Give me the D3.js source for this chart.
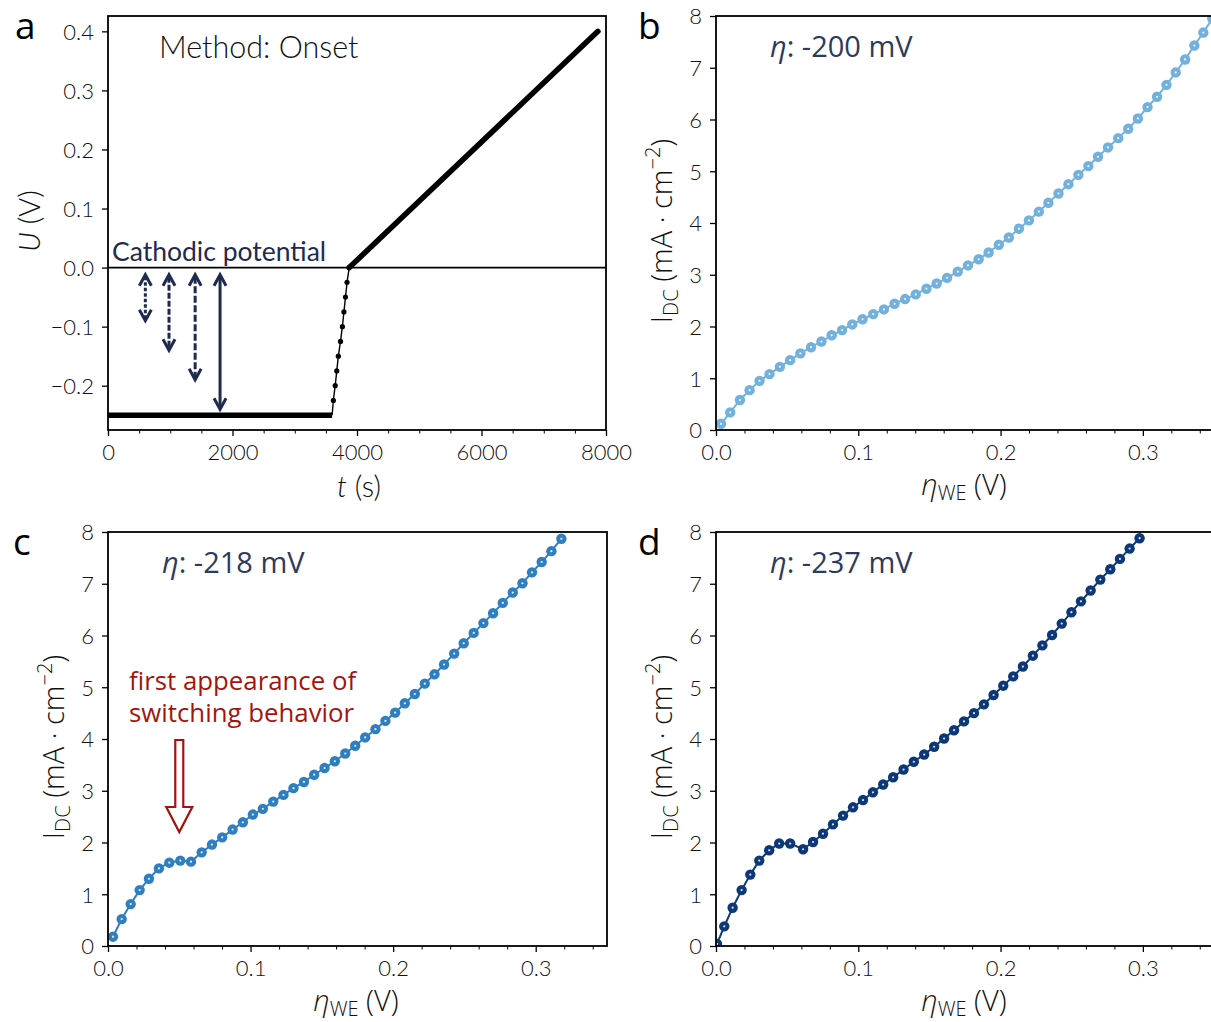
<!DOCTYPE html>
<html><head><meta charset="utf-8">
<script src="https://cdn.jsdelivr.net/npm/d3@7"></script>
<style>
body{margin:0;background:#fff;}
svg{display:block;}
.tick text{font-family:Lato,"Noto Sans",sans-serif;font-weight:300;font-size:22px;fill:#111;}
</style></head>
<body>
<svg id="fig" width="1211" height="1022"></svg>
<script>
// ---------- Panel a data ----------
const holdT = [0, 3600];
const holdU = [-0.25, -0.25];
const stepT = [3600, 3620, 3650, 3675, 3700, 3735, 3765, 3790, 3815, 3840, 3875];
const stepU = [-0.25, -0.225, -0.2, -0.175, -0.15, -0.125, -0.1, -0.075, -0.05, -0.025, 0];
const rampT = [3875, 7870];
const rampU = [0, 0.4];
const arrowT = [600, 980, 1400, 1800];
const arrowDepth = [-0.1, -0.15, -0.2, -0.25];
const aXTicks = [0, 2000, 4000, 6000, 8000];
const aYTicks = [-0.2, -0.1, 0.0, 0.1, 0.2, 0.3, 0.4];

// ---------- Panel b data (eta -200 mV) ----------
const bEta = [0.0035,0.0100,0.0168,0.0236,0.0306,0.0376,0.0449,0.0521,0.0593,0.0668,0.0741,0.0813,0.0886,0.0958,0.1030,0.1105,0.1180,0.1255,0.1329,0.1404,0.1479,0.1551,0.1624,0.1699,0.1771,0.1846,0.1916,0.1988,0.2058,0.2129,0.2199,0.2269,0.2336,0.2407,0.2477,0.2547,0.2617,0.2685,0.2755,0.2827,0.2897,0.2965,0.3033,0.3100,0.3166,0.3231,0.3297,0.3362,0.3425,0.3488];
const bI   = [0.12,0.34,0.58,0.77,0.95,1.08,1.22,1.35,1.48,1.60,1.71,1.83,1.93,2.04,2.14,2.24,2.33,2.44,2.53,2.62,2.73,2.83,2.94,3.06,3.18,3.30,3.43,3.58,3.72,3.89,4.05,4.22,4.39,4.57,4.75,4.93,5.10,5.28,5.46,5.64,5.82,6.02,6.24,6.44,6.67,6.91,7.16,7.43,7.68,7.95];

// ---------- Panel c data (eta -218 mV) ----------
const cEta = [0.0035,0.0096,0.0159,0.0222,0.0287,0.0357,0.0430,0.0507,0.0582,0.0657,0.0729,0.0801,0.0874,0.0946,0.1016,0.1086,0.1159,0.1231,0.1301,0.1374,0.1446,0.1519,0.1591,0.1664,0.1734,0.1804,0.1876,0.1946,0.2014,0.2082,0.2152,0.2222,0.2290,0.2357,0.2428,0.2495,0.2565,0.2633,0.2701,0.2769,0.2839,0.2907,0.2974,0.3042,0.3110,0.3180];
const cI   = [0.18,0.52,0.81,1.08,1.30,1.50,1.61,1.65,1.63,1.81,1.96,2.10,2.25,2.39,2.54,2.65,2.79,2.92,3.05,3.17,3.31,3.44,3.57,3.72,3.87,4.03,4.19,4.35,4.51,4.69,4.87,5.07,5.25,5.44,5.65,5.85,6.05,6.24,6.43,6.63,6.83,7.01,7.22,7.42,7.63,7.87];

// ---------- Panel d data (eta -237 mV) ----------
const dEta = [0.0007,0.0058,0.0117,0.0180,0.0241,0.0304,0.0374,0.0444,0.0521,0.0612,0.0682,0.0752,0.0822,0.0893,0.0963,0.1033,0.1103,0.1175,0.1245,0.1318,0.1390,0.1463,0.1533,0.1603,0.1673,0.1743,0.1813,0.1883,0.1951,0.2019,0.2089,0.2157,0.2227,0.2294,0.2362,0.2430,0.2498,0.2565,0.2633,0.2701,0.2771,0.2839,0.2907,0.2977];
const dI   = [0.04,0.38,0.74,1.08,1.38,1.65,1.85,1.98,1.98,1.87,2.01,2.17,2.35,2.52,2.68,2.82,2.97,3.12,3.26,3.41,3.56,3.70,3.85,4.01,4.17,4.34,4.50,4.67,4.85,5.03,5.21,5.40,5.61,5.81,6.01,6.23,6.45,6.66,6.87,7.08,7.28,7.48,7.68,7.88];

const ivXTicks = [0.0, 0.1, 0.2, 0.3];
const ivYTicks = [0, 1, 2, 3, 4, 5, 6, 7, 8];
const panelLetters = ["a", "b", "c", "d"];
const etaLabels = ["-200 mV", "-218 mV", "-237 mV"];
const seriesColors = ["#72b1dc", "#2f7fc0", "#0c3878"];
const noteLines = ["first appearance of", "switching behavior"];

// ---------- drawing ----------
const svg = d3.select("#fig");
const navy = "#1f2a4f";
const textFont = "'Open Sans','Noto Sans',sans-serif";

function frame(g, x0, x1, y0, y1) {
  g.append("rect").attr("x", x0).attr("y", y0).attr("width", x1 - x0).attr("height", y1 - y0)
    .attr("fill", "none").attr("stroke", "#000").attr("stroke-width", 1.8);
}

function axes(g, xs, ys, xticks, xminor, yticks, xfmt, yfmt, y1, x0) {
  const ax = g.append("g").attr("transform", `translate(0,${y1})`)
    .call(d3.axisBottom(xs).tickValues(xticks).tickFormat(xfmt).tickSize(6).tickPadding(8));
  ax.select(".domain").remove();
  ax.selectAll(".tick line").attr("stroke-width", 1.3);
  if (xminor) {
    const am = g.append("g").attr("transform", `translate(0,${y1})`)
      .call(d3.axisBottom(xs).tickValues(xminor).tickFormat("").tickSize(3.5));
    am.select(".domain").remove();
    am.selectAll(".tick line").attr("stroke-width", 1);
  }
  const ay = g.append("g").attr("transform", `translate(${x0},0)`)
    .call(d3.axisLeft(ys).tickValues(yticks).tickFormat(yfmt).tickSize(6).tickPadding(8));
  ay.select(".domain").remove();
  ay.selectAll(".tick line").attr("stroke-width", 1.3);
  ay.selectAll(".tick text").attr("dy", "0.36em");
}

// Panel a
(function () {
  const x0 = 108, x1 = 606, y0 = 16, y1 = 430;
  const xs = d3.scaleLinear().domain([0, 8000]).range([x0, x1]);
  const ys = d3.scaleLinear().domain([-0.275, 0.426]).range([y1, y0]);
  const g = svg.append("g");
  const minor = d3.range(0, 8001, 500).filter(v => v % 2000 !== 0);
  axes(g, xs, ys, aXTicks, minor, aYTicks, d3.format("d"), d => d3.format(".1f")(d).replace("-", "\u2212"), y1, x0);

  g.append("line").attr("x1", x0).attr("x2", x1).attr("y1", ys(0)).attr("y2", ys(0))
    .attr("stroke", "#000").attr("stroke-width", 1.8);
  const line = d3.line().x(d => xs(d[0])).y(d => ys(d[1]));
  g.append("path").attr("d", line(d3.zip(holdT, holdU))).attr("stroke", "#000").attr("stroke-width", 5.5).attr("fill", "none");
  g.append("path").attr("d", line(d3.zip(rampT, rampU))).attr("stroke", "#000").attr("stroke-width", 5.5)
    .attr("stroke-linecap", "round").attr("fill", "none");
  g.append("path").attr("d", line(d3.zip(stepT, stepU))).attr("stroke", "#000").attr("stroke-width", 1.4).attr("fill", "none");
  g.selectAll("circle.st").data(d3.zip(stepT, stepU).slice(1)).join("circle")
    .attr("cx", d => xs(d[0])).attr("cy", d => ys(d[1])).attr("r", 2.6).attr("fill", "#000");

  const dashes = ["3.5,2", "6,2", "7,2.5", null];
  arrowT.forEach((t, i) => {
    const x = xs(t), yt = ys(-0.012), yb = ys(arrowDepth[i] + 0.01);
    const a = g.append("g").attr("stroke", navy).attr("stroke-width", 3).attr("fill", "none");
    a.append("line").attr("x1", x).attr("x2", x).attr("y1", yt + 2).attr("y2", yb - 2)
      .attr("stroke-dasharray", dashes[i]);
    a.append("path").attr("d", `M${x - 6},${yt + 11}L${x},${yt}L${x + 6},${yt + 11}`).attr("stroke-linejoin", "miter");
    a.append("path").attr("d", `M${x - 6},${yb - 11}L${x},${yb}L${x + 6},${yb - 11}`).attr("stroke-linejoin", "miter");
  });

  g.append("text").attr("x", 112).attr("y", 261).text("Cathodic potential")
    .attr("font-family", "Lato,sans-serif").attr("font-size", 26.5).attr("fill", navy);
  g.append("text").attr("x", 159).attr("y", 58).text("Method: Onset")
    .attr("font-family", "Lato,sans-serif").attr("font-weight", 300).attr("font-size", 30.5).attr("fill", "#111");

  // axis titles
  const yl = g.append("text").attr("transform", `translate(40,${(y0 + y1) / 2 - 2}) rotate(-90)`)
    .attr("text-anchor", "middle").attr("font-family", "Lato,sans-serif").attr("font-weight", 300).attr("font-size", 29).attr("fill", "#111");
  yl.append("tspan").attr("font-style", "italic").text("U");
  yl.append("tspan").text(" (V)");
  const xl = g.append("text").attr("x", (x0 + x1) / 2 + 2).attr("y", 497)
    .attr("text-anchor", "middle").attr("font-family", "Lato,sans-serif").attr("font-weight", 300).attr("font-size", 29).attr("fill", "#111");
  xl.append("tspan").attr("font-style", "italic").text("t");
  xl.append("tspan").text(" (s)");
  frame(g, x0, x1, y0, y1);
})();

// Panels b, c, d
const ivPanels = [
  {x0: 716, x1: 1214, y0: 16, y1: 430, eta: bEta, I: bI},
  {x0: 108, x1: 607, y0: 532, y1: 946, eta: cEta, I: cI},
  {x0: 716, x1: 1214, y0: 532, y1: 946, eta: dEta, I: dI}
];
ivPanels.forEach((p, k) => {
  const xs = d3.scaleLinear().domain([0, 0.35]).range([p.x0, p.x1]);
  const ys = d3.scaleLinear().domain([0, 8]).range([p.y1, p.y0]);
  const g = svg.append("g");
  const minor = d3.range(1, 18).map(i => +(i * 0.02).toFixed(2)).filter(v => Math.abs(v * 10 - Math.round(v * 10)) > 1e-6);
  axes(g, xs, ys, ivXTicks, minor, ivYTicks, d3.format(".1f"), d3.format("d"), p.y1, p.x0);
  const clipId = "clip" + k;
  g.append("clipPath").attr("id", clipId).append("rect")
    .attr("x", p.x0).attr("y", p.y0).attr("width", p.x1 - p.x0).attr("height", p.y1 - p.y0);
  const data = d3.zip(p.eta, p.I);
  const col = seriesColors[k];
  const dg = g.append("g").attr("clip-path", `url(#${clipId})`);
  dg.append("path").attr("d", d3.line().x(d => xs(d[0])).y(d => ys(d[1]))(data))
    .attr("stroke", col).attr("stroke-width", 2).attr("fill", "none");
  dg.selectAll("circle.m").data(data).join("circle")
    .attr("cx", d => xs(d[0])).attr("cy", d => ys(d[1])).attr("r", 5.2).attr("fill", col);
  dg.selectAll("circle.w").data(data).join("circle")
    .attr("cx", d => xs(d[0])).attr("cy", d => ys(d[1])).attr("r", 1.1).attr("fill", "#fff").attr("opacity", 0.85);

  // eta label
  const t = g.append("text").attr("x", p.x0 + 54).attr("y", p.y0 + 41)
    .attr("font-family", textFont).attr("font-size", 29).attr("fill", "#2e3a5c");
  t.append("tspan").attr("font-style", "italic").text("\u03b7");
  t.append("tspan").text(": " + etaLabels[k]);

  // y title
  const yl = g.append("text").attr("transform", `translate(${p.x0 - 44},${(p.y0 + p.y1) / 2 + 8}) rotate(-90)`)
    .attr("text-anchor", "middle").attr("font-family", textFont).attr("font-weight", 300).attr("font-size", 29).attr("fill", "#111");
  yl.append("tspan").text("I");
  yl.append("tspan").attr("font-size", 20).attr("dy", 6).text("DC");
  yl.append("tspan").attr("dy", -6).text(" (mA \u00b7 cm");
  yl.append("tspan").attr("font-size", 20).attr("dy", -12).text("\u22122");
  yl.append("tspan").attr("dy", 12).text(")");
  // x title
  const xl = g.append("text").attr("x", p.x0 + 248).attr("y", p.y1 + 65)
    .attr("text-anchor", "middle").attr("font-family", textFont).attr("font-weight", 300).attr("font-size", 29).attr("fill", "#111");
  xl.append("tspan").attr("font-style", "italic").text("\u03b7");
  xl.append("tspan").attr("font-size", 20).attr("dy", 5).text("WE");
  xl.append("tspan").attr("dy", -5).text(" (V)");
  frame(g, p.x0, p.x1, p.y0, p.y1);

  if (k === 1) {
    const red = "#a3140f";
    const note = g.append("text").attr("x", 129).attr("y", 690)
      .attr("font-family", textFont).attr("font-size", 25.8).attr("fill", red);
    note.append("tspan").attr("x", 129).text(noteLines[0]);
    note.append("tspan").attr("x", 129).attr("dy", 32).text(noteLines[1]);
    const cx = xs(0.05), top = 740, shaftB = 807, tip = 832;
    g.append("path").attr("d",
      `M${cx - 4},${top}L${cx + 4},${top}L${cx + 4},${shaftB}L${cx + 13},${shaftB}L${cx},${tip}L${cx - 13},${shaftB}L${cx - 4},${shaftB}Z`)
      .attr("fill", "#fff").attr("stroke", red).attr("stroke-width", 2.2);
  }
});

// panel letters
const letterPos = [[15, 39], [638, 39], [13, 555], [638, 555]];
panelLetters.forEach((l, i) => {
  svg.append("text").attr("x", letterPos[i][0]).attr("y", letterPos[i][1]).text(l)
    .attr("font-family", textFont).attr("font-size", 37).attr("fill", "#000");
});
</script>
</body></html>
